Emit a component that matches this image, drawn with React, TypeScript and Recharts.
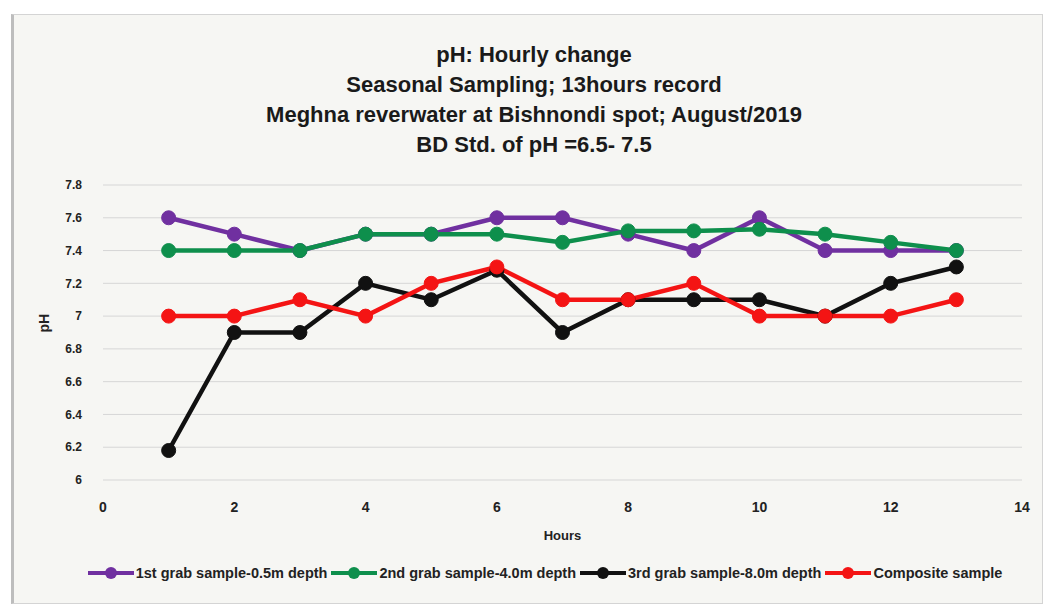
import { CartesianGrid, Legend, Line, LineChart, XAxis, YAxis } from 'recharts';

const hours = [1, 2, 3, 4, 5, 6, 7, 8, 9, 10, 11, 12, 13];
const firstGrab = [7.6, 7.5, 7.4, 7.5, 7.5, 7.6, 7.6, 7.5, 7.4, 7.6, 7.4, 7.4, 7.4];
const secondGrab = [7.4, 7.4, 7.4, 7.5, 7.5, 7.5, 7.45, 7.52, 7.52, 7.53, 7.5, 7.45, 7.4];
const thirdGrab = [6.18, 6.9, 6.9, 7.2, 7.1, 7.28, 6.9, 7.1, 7.1, 7.1, 7.0, 7.2, 7.3];
const composite = [7.0, 7.0, 7.1, 7.0, 7.2, 7.3, 7.1, 7.1, 7.2, 7.0, 7.0, 7.0, 7.1];

const xTicks = [0, 2, 4, 6, 8, 10, 12, 14];
const yTicks = [6, 6.2, 6.4, 6.6, 6.8, 7, 7.2, 7.4, 7.6, 7.8];

const titleLines = [
    'pH: Hourly change',
    'Seasonal Sampling; 13hours record',
    'Meghna reverwater at Bishnondi spot; August/2019',
    'BD Std. of pH =6.5- 7.5',
];

const series = [
    { key: 'first', name: '1st grab sample-0.5m depth', color: '#7030a0', values: firstGrab },
    { key: 'second', name: '2nd grab sample-4.0m depth', color: '#0e8f4c', values: secondGrab },
    { key: 'third', name: '3rd grab sample-8.0m depth', color: '#111111', values: thirdGrab },
    { key: 'composite', name: 'Composite sample', color: '#f41414', values: composite },
];

const data = hours.map((h, i) => {
    const row: Record<string, number> = { hour: h };
    series.forEach((s) => {
        row[s.key] = s.values[i];
    });
    return row;
});

const FONT = '"Liberation Sans", Arial, sans-serif';

const fmtY = (v: number) => (Number.isInteger(v) ? String(v) : v.toFixed(1));

const renderLegend = () => (
    <div
        style={{
            display: 'flex',
            justifyContent: 'center',
            alignItems: 'center',
            height: 56,
            marginLeft: 32,
            fontFamily: FONT,
            fontSize: 14.5,
            fontWeight: 'bold',
            color: '#222',
        }}
    >
        {series.map((s) => (
            <div key={s.key} style={{ display: 'flex', alignItems: 'center', marginRight: 4 }}>
                <svg width={46} height={14}>
                    <line x1={0} y1={7} x2={46} y2={7} stroke={s.color} strokeWidth={4} />
                    <circle cx={23} cy={7} r={6} fill={s.color} />
                </svg>
                <span style={{ marginLeft: 2 }}>{s.name}</span>
            </div>
        ))}
    </div>
);

export default function App() {
    return (
        <div style={{ position: 'absolute', left: 0, top: 0, width: 1043, height: 605, background: '#ffffff' }}>
            <div
                style={{
                    position: 'absolute',
                    left: 11,
                    top: 14,
                    width: 1028,
                    height: 588,
                    background: '#f6f6f3',
                    border: '1px solid #d4d4d4',
                    borderLeft: '3px solid #bdbdbd',
                }}
            />
            <div
                style={{
                    position: 'absolute',
                    left: 0,
                    top: 40,
                    width: 1068,
                    textAlign: 'center',
                    fontFamily: FONT,
                    fontWeight: 'bold',
                    fontSize: 22,
                    lineHeight: '30px',
                    color: '#1a1a1a',
                }}
            >
                {titleLines.map((t) => (
                    <div key={t}>{t}</div>
                ))}
            </div>
            <div style={{ position: 'absolute', left: 0, top: 0 }}>
                <LineChart width={1043} height={605} data={data} margin={{ top: 185, right: 21, left: 40, bottom: 4 }}>
                    <CartesianGrid stroke="#d6d6d6" vertical={false} />
                    <XAxis
                        dataKey="hour"
                        type="number"
                        domain={[0, 14]}
                        ticks={xTicks}
                        axisLine={false}
                        tickLine={false}
                        tickMargin={16}
                        height={65}
                        tick={{ fill: '#222', fontSize: 14, fontFamily: FONT, fontWeight: 'bold' }}
                        label={{
                            value: 'Hours',
                            position: 'insideBottom',
                            offset: 5,
                            fill: '#222',
                            fontSize: 13,
                            fontFamily: FONT,
                            fontWeight: 'bold',
                        }}
                    />
                    <YAxis
                        type="number"
                        domain={[6, 7.8]}
                        ticks={yTicks}
                        tickFormatter={fmtY}
                        axisLine={false}
                        tickLine={false}
                        tickMargin={15}
                        width={63}
                        tick={{ fill: '#222', fontSize: 12, fontFamily: FONT, fontWeight: 'bold' }}
                        label={{
                            value: 'pH',
                            angle: -90,
                            position: 'insideLeft',
                            offset: 4,
                            fill: '#222',
                            fontSize: 14,
                            fontFamily: FONT,
                            fontWeight: 'bold',
                        }}
                    />
                    <Legend verticalAlign="bottom" content={renderLegend} />
                    {series.map((s) => (
                        <Line
                            key={s.key}
                            type="linear"
                            dataKey={s.key}
                            name={s.name}
                            stroke={s.color}
                            strokeWidth={4.5}
                            dot={{ r: 7, fill: s.color, stroke: s.color, strokeWidth: 1 }}
                            activeDot={false}
                            isAnimationActive={false}
                        />
                    ))}
                </LineChart>
            </div>
        </div>
    );
}
